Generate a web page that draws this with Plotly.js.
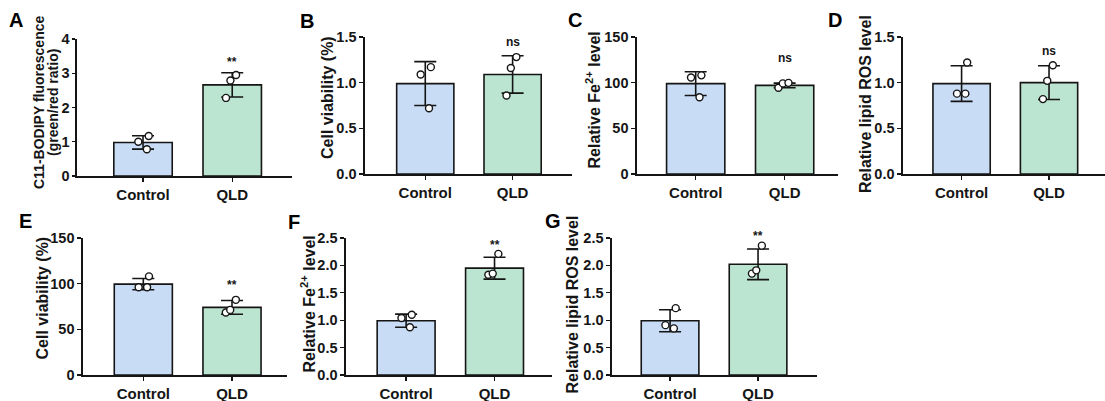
<!DOCTYPE html>
<html>
<head>
<meta charset="utf-8">
<script src="https://cdn.plot.ly/plotly-3.0.1.min.js"></script>
<style>html,body{margin:0;padding:0;background:#fff;}#chart{width:1105px;height:401px;}</style>
</head>
<body>
<div id="chart"></div>
<script>
// ---------- data ----------
const categories = ['Control', 'QLD'];

const panelLetters = ['A', 'B', 'C', 'D', 'E', 'F', 'G'];
const yTitles = [
  ['C11-BODIPY fluorescence', '(green/red ratio)'],
  ['Cell viability (%)'],
  ['Relative Fe<sup>2+</sup> level'],
  ['Relative lipid ROS level'],
  ['Cell viability (%)'],
  ['Relative Fe<sup>2+</sup> level'],
  ['Relative lipid ROS level']
];

// bar heights (means) per panel [Control, QLD]
const meansA = [0.98, 2.66];
const meansB = [0.99, 1.09];
const meansC = [99, 97];
const meansD = [0.99, 1.0];
const meansE = [99.5, 74];
const meansF = [0.99, 1.95];
const meansG = [0.99, 2.02];

// SD error bars [Control, QLD]
const sdA = [0.195, 0.355];
const sdB = [0.24, 0.205];
const sdC = [13, 2.5];
const sdD = [0.195, 0.185];
const sdE = [6.2, 7.5];
const sdF = [0.12, 0.20];
const sdG = [0.20, 0.28];

// individual replicates
const ctrlA = [1.17, 1.0, 0.78],  qldA = [2.95, 2.79, 2.28];
const ctrlB = [1.17, 1.09, 0.72], qldB = [1.28, 1.16, 0.86];
const ctrlC = [108, 105.6, 84],   qldC = [99.8, 94.5, 99.2];
const ctrlD = [1.22, 0.88, 0.88], qldD = [1.19, 1.02, 0.82];
const ctrlE = [108, 96, 96],      qldE = [82.3, 71.3, 68.4];
const ctrlF = [1.10, 1.04, 0.87], qldF = [2.21, 1.85, 1.83];
const ctrlG = [1.22, 0.91, 0.85], qldG = [2.36, 1.91, 1.85];

// significance labels (QLD vs Control) and their heights (data units)
const sigLabels = ['**', 'ns', 'ns', 'ns', '**', '**', '**'];
const sigY = [3.33, 1.45, 127, 1.35, 98, 2.38, 2.53];

// y-axis scales
const yMax = [4, 1.5, 150, 1.5, 150, 2.5, 2.5];
const yStep = [1, 0.5, 50, 0.5, 50, 0.5, 0.5];
const yFormat = ['d', '.1f', 'd', '.1f', 'd', '.1f', '.1f'];

// ---------- layout geometry (pixels in the 1105x401 picture) ----------
const W = 1105, H = 401;
const boxPx = [ // [left, right, top, bottom] of each plotting area
  [77, 292, 39, 176],
  [365, 572, 37, 174],
  [637, 838, 37, 174],
  [903, 1105, 37, 174],
  [83, 287, 238, 375],
  [346, 552, 238, 375],
  [612, 817, 238, 375]
];
const xRanges = [
  [-0.74, 1.67], [-0.69, 1.68], [-0.66, 1.6], [-0.67, 1.64],
  [-0.68, 1.62], [-0.68, 1.65], [-0.66, 1.67]
];
const letterPos = [[16, 20], [307, 21], [575, 20], [835, 20], [25, 221], [294, 222], [553, 221]];
// centre of each rotated y title line [x list, y]
const titlePos = [
  [[39, 53], 103], [[327], 98], [[593], 100.5], [[865], 104],
  [[42], 298.5], [[308], 304.5], [[572], 304.5]
];

const means = [meansA, meansB, meansC, meansD, meansE, meansF, meansG];
const sds = [sdA, sdB, sdC, sdD, sdE, sdF, sdG];
const ctrls = [ctrlA, ctrlB, ctrlC, ctrlD, ctrlE, ctrlF, ctrlG];
const qlds = [qldA, qldB, qldC, qldD, qldE, qldF, qldG];

const barColors = ['#c8dcf5', '#bce5d1'];
const ink = '#151515';
const FONT = 'Liberation Sans, Arial, Helvetica, sans-serif';

const traces = [];
const layout = {
  width: W, height: H,
  margin: {l: 0, r: 0, t: 0, b: 0},
  paper_bgcolor: '#ffffff',
  plot_bgcolor: 'rgba(0,0,0,0)',
  showlegend: false,
  font: {family: FONT, color: ink, weight: 'bold'},
  barmode: 'overlay',
  boxmode: 'overlay',
  annotations: []
};

for (let i = 0; i < 7; i++) {
  const n = i === 0 ? '' : String(i + 1);
  const xa = 'x' + n, ya = 'y' + n;
  const [l, r, t, b] = boxPx[i];
  const yDom = [1 - b / H, 1 - t / H];

  traces.push({
    type: 'bar', x: categories, y: means[i], xaxis: xa, yaxis: ya,
    width: 0.655,
    marker: {color: barColors, line: {color: ink, width: 1.6}},
    error_y: {type: 'data', array: sds[i], visible: true, color: ink, thickness: 1.6, width: 11},
    hoverinfo: 'y'
  });

  traces.push({
    type: 'box', xaxis: xa, yaxis: ya,
    x: categories.map(c => [c, c, c]).flat(),
    y: ctrls[i].concat(qlds[i]),
    boxpoints: 'all', jitter: 0.55, pointpos: 0, width: 0.3,
    fillcolor: 'rgba(0,0,0,0)', line: {color: 'rgba(0,0,0,0)', width: 0},
    whiskerwidth: 0,
    marker: {color: '#ffffff', size: 7, line: {color: ink, width: 1.4}},
    hoveron: 'points'
  });

  layout['xaxis' + n] = {
    domain: [l / W, r / W], anchor: ya,
    type: 'category', range: xRanges[i],
    showline: true, linecolor: ink, linewidth: 1.6,
    ticks: 'outside', ticklen: 4, tickwidth: 1.3, tickcolor: ink,
    showgrid: false, zeroline: false, fixedrange: true,
    tickfont: {family: FONT, size: 15, color: ink, weight: 'bold'}
  };
  layout['yaxis' + n] = {
    domain: yDom, anchor: xa,
    range: [0, yMax[i]], dtick: yStep[i], tick0: 0, tickformat: yFormat[i],
    showline: true, linecolor: ink, linewidth: 1.6,
    ticks: 'outside', ticklen: i === 0 ? 3 : 4, tickwidth: 1.3, tickcolor: ink,
    showgrid: false, zeroline: false, fixedrange: true,
    tickfont: {family: FONT, size: 14.5, color: ink, weight: 'bold'}
  };

  // y-axis titles (rotated text placed by hand)
  const tp = titlePos[i];
  yTitles[i].forEach((line, k) => {
    layout.annotations.push({
      xref: 'paper', yref: 'paper',
      x: tp[0][k] / W, y: 1 - tp[1] / H,
      text: line, textangle: -90, showarrow: false,
      xanchor: 'center', yanchor: 'middle',
      font: {family: FONT, size: i === 0 ? 14 : 16, color: ink, weight: 'bold'}
    });
  });

  // significance label above the QLD bar
  layout.annotations.push({
    xref: xa, yref: 'paper', x: categories[1],
    y: yDom[0] + (sigY[i] / yMax[i]) * (yDom[1] - yDom[0]),
    text: sigLabels[i], showarrow: false, xanchor: 'center', yanchor: 'middle',
    font: {family: FONT, size: 12, color: ink, weight: 'bold'}
  });
  // panel letter
  layout.annotations.push({
    xref: 'paper', yref: 'paper',
    x: letterPos[i][0] / W, y: 1 - letterPos[i][1] / H,
    text: panelLetters[i], showarrow: false, xanchor: 'center', yanchor: 'middle',
    font: {family: FONT, size: 20, color: '#000', weight: 'bold'}
  });
}

Plotly.newPlot('chart', traces, layout, {displayModeBar: false, staticPlot: true});
</script>
</body>
</html>
